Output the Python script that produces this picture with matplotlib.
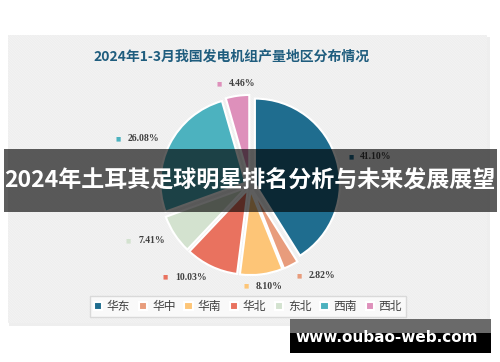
import numpy as np
import matplotlib
matplotlib.use('Agg')
import matplotlib.pyplot as plt
from matplotlib.patches import Rectangle
from matplotlib.offsetbox import TextArea, HPacker, AnnotationBbox

plt.rcParams['font.family'] = ['Noto Sans CJK SC', 'DejaVu Sans']
plt.rcParams['hatch.linewidth'] = 0.5

# data
title = '2024年1-3月我国发电机组产量地区分布情况'
regions = ['华东', '华中', '华南', '华北', '东北', '西南', '西北']
shares = [41.10, 2.82, 8.10, 10.03, 7.41, 26.08, 4.46]
colors = ['#1f6d8f', '#e89c7c', '#fdc577', '#e9725f', '#d3e2cf', '#4cb2bf', '#de90bb']
banner_text = '2024年土耳其足球明星排名分析与未来发展展望'
site = 'www.oubao-web.com'

W, H = 500, 362
fig = plt.figure(figsize=(5, 3.62), dpi=100)

# background panel, pixel coordinates (y down)
bg = fig.add_axes([0, 0, 1, 1], zorder=0)
bg.set_xlim(0, W)
bg.set_ylim(H, 0)
bg.axis('off')
bg.add_patch(Rectangle((9, 37), 481, 289, fc='#eeeeee', lw=0))
bg.add_patch(Rectangle((8, 35), 479, 288, fc='#f9f9f9', ec='#ebebeb',
                       hatch='\\' * 20, lw=0))
bg.text(232, 57, title, ha='center', va='center', fontsize=10,
        weight='bold', color='#1f5d7e')

# pie
R, cx, cy = 85, 250, 185
half = 1.5 * R
pax = fig.add_axes([(cx - half) / W, (H - cy - half) / H, 2 * half / W, 2 * half / H],
                   zorder=1)
wedges, _ = pax.pie(shares, colors=colors, startangle=90, counterclock=False,
                    explode=[0.06] * len(shares),
                    wedgeprops=dict(edgecolor='white', linewidth=1.5))
pax.set_xlim(-1.5, 1.5)
pax.set_ylim(-1.5, 1.5)
pax.set_aspect('equal')
pax.axis('off')

for w, v, c in zip(wedges, shares, colors):
    ang = np.deg2rad((w.theta1 + w.theta2) / 2)
    x, y = 1.2 * np.cos(ang), 1.2 * np.sin(ang)
    if abs(np.cos(ang)) < 0.3:
        align = 0.5
    elif np.cos(ang) > 0:
        align = 0.0
    else:
        align = 1.0
    box = HPacker(children=[
        TextArea('■', textprops=dict(color=c, fontsize=4, family='DejaVu Sans')),
        TextArea(f'{v:.2f}%', textprops=dict(color='#404040', fontsize=7,
                                             family='Liberation Serif', weight='bold')),
    ], pad=0, sep=5, align='center')
    ab = AnnotationBbox(box, (x, y), box_alignment=(align, 0.5), frameon=False,
                        annotation_clip=False)
    pax.add_artist(ab)

fig.legend(wedges, regions, loc='center', bbox_to_anchor=(248 / W, 1 - 306.5 / H),
           ncol=7, frameon=True, fancybox=False, edgecolor='#d9d9d9',
           facecolor='#f9f9f9', framealpha=1, fontsize=8.5, labelcolor='#404040',
           handlelength=0.7, handleheight=0.7, handletextpad=0.4,
           columnspacing=0.75, borderpad=0.3)

# overlay banner + site mark
ov = fig.add_axes([0, 0, 1, 1], zorder=3)
ov.set_xlim(0, W)
ov.set_ylim(H, 0)
ov.axis('off')
ov.patch.set_alpha(0)
ov.add_patch(Rectangle((4, 149), 493, 63, fc='black', alpha=0.63, lw=0))
ov.text(250, 181, banner_text, color='white', fontsize=16.6, weight='bold',
        ha='center', va='center')
ov.add_patch(Rectangle((290, 319), 201, 14, fc='#6a6a6a', lw=0))
ov.add_patch(Rectangle((290, 333), 201, 20, fc='black', lw=0))
ov.text(387, 337, site, color='white', fontsize=11, weight='bold',
        family='DejaVu Sans', ha='center', va='center')

fig.savefig('out.png', dpi=100, facecolor='white')
